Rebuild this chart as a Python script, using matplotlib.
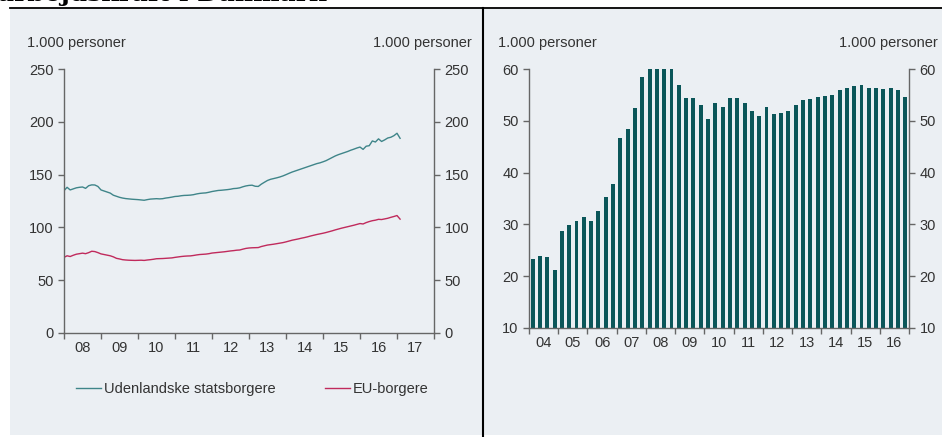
import numpy as np
import matplotlib.pyplot as plt
from matplotlib.patches import Rectangle
from matplotlib.lines import Line2D

plt.rcParams['font.family'] = ['Liberation Sans', 'DejaVu Sans']

# venstre figur: maanedlige tal, jan 2008 - feb 2017 (1.000 personer)
udenlandske = [134.8, 138.0, 135.5, 136.5, 137.5, 138.0, 138.3, 137.0, 139.5, 140.3, 140.2, 138.8,
               135.5, 134.5, 133.5, 132.5, 130.5, 129.5, 128.5, 127.8, 127.3, 127.0, 126.7, 126.5,
               126.3, 126.0, 125.7, 126.3, 126.8, 127.0, 127.2, 127.0, 127.2, 127.8, 128.2, 128.7,
               129.3, 129.5, 130.0, 130.3, 130.4, 130.6, 131.0, 131.7, 132.2, 132.5, 132.7, 133.3,
               134.0, 134.5, 135.0, 135.2, 135.5, 135.8, 136.2, 136.8, 137.0, 137.5, 138.5, 139.3,
               139.8, 140.0, 139.0, 138.8, 141.0, 142.8, 144.5, 145.6, 146.3, 147.0, 147.8, 148.8,
               150.0, 151.3, 152.5, 153.5, 154.5, 155.5, 156.5, 157.5, 158.5, 159.5, 160.5, 161.2,
               162.2, 163.3, 164.8, 166.3, 167.8, 169.0, 170.0, 171.0, 172.0, 173.2, 174.2, 175.3,
               176.2, 174.0, 177.0, 177.5, 182.0, 181.0, 184.0, 181.5, 183.0, 184.8, 185.5, 187.0,
               189.3, 184.5]
eu_borgere = [71.5, 73.0, 72.3, 73.5, 74.5, 75.0, 75.5, 75.0, 76.0, 77.3, 77.0, 76.0,
              74.8, 74.2, 73.6, 73.0, 72.0, 70.6, 70.0, 69.3, 69.0, 68.8, 68.7, 68.6,
              68.7, 68.8, 68.6, 69.0, 69.3, 69.7, 70.2, 70.3, 70.4, 70.6, 70.8, 71.0,
              71.5, 71.9, 72.3, 72.6, 72.8, 72.9, 73.3, 73.8, 74.2, 74.4, 74.6, 75.0,
              75.6, 75.9, 76.2, 76.5, 76.8, 77.2, 77.6, 77.9, 78.3, 78.5, 79.3, 80.0,
              80.4, 80.6, 80.7, 80.8, 81.8, 82.5, 83.2, 83.6, 84.0, 84.5, 85.0, 85.5,
              86.2, 87.0, 87.8, 88.4, 89.0, 89.7, 90.3, 91.0, 91.8, 92.5, 93.2, 93.8,
              94.4, 95.1, 95.9, 96.7, 97.6, 98.4, 99.2, 99.9, 100.6, 101.3, 102.0, 102.8,
              103.6, 103.2, 104.5, 105.5, 106.3, 106.8, 107.6, 107.4, 108.0, 108.6, 109.5, 110.3,
              111.2, 107.8]

# hoejre figur: kvartalstal 2004K1 - 2016K4 (1.000 personer)
kvartal = [23.2, 23.9, 23.7, 21.2, 28.7, 29.8, 30.7, 31.5, 30.7, 32.5, 35.2, 37.9,
           46.8, 48.4, 52.5, 58.6, 60.0, 60.0, 60.0, 60.0, 57.0, 54.4, 54.4, 53.1,
           50.4, 53.4, 52.8, 54.4, 54.4, 53.5, 51.9, 51.0, 52.8, 51.4, 51.5, 51.9,
           53.1, 54.1, 54.3, 54.6, 54.8, 55.1, 55.9, 56.3, 56.8, 56.9, 56.3, 56.3,
           56.2, 56.3, 55.9, 54.7]

aar_v = list(range(2008, 2019))
labels_v = ['08', '09', '10', '11', '12', '13', '14', '15', '16', '17']
aar_h = list(range(2004, 2018))
labels_h = ['04', '05', '06', '07', '08', '09', '10', '11', '12', '13', '14', '15', '16']

bg = '#ebeff3'
teal = '#3f8589'
red = '#c02a5c'
bar_c = '#0b5659'
spine_c = '#666666'
txt_c = '#333333'
fs = 10.5

W, H = 942, 437
fig = plt.figure(figsize=(W / 100, H / 100), dpi=100)

# baggrund og rammer
fig.patches.append(Rectangle((10 / W, 0.005), 1 - 10 / W, 1 - 9 / H - 0.005,
                             transform=fig.transFigure, facecolor=bg, edgecolor='none', zorder=-10))
fig.add_artist(Line2D([10 / W, 1], [1 - 8 / H, 1 - 8 / H], color='black', lw=1.3))
fig.add_artist(Line2D([483 / W, 483 / W], [0, 1 - 8 / H], color='black', lw=1.5))
fig.text(-2 / W, 1 - 1 / H, 'arbejdskraft i Danmark', fontsize=18, fontweight='bold',
         family='DejaVu Serif', va='baseline', ha='left', color='black')


def style(ax):
    ax.set_facecolor('none')
    ax.spines['top'].set_visible(False)
    for s in ['left', 'right', 'bottom']:
        ax.spines[s].set_color(spine_c)
        ax.spines[s].set_linewidth(1.0)
    ax.tick_params(axis='both', which='major', direction='out', length=4, width=1,
                   color=spine_c, labelsize=fs, labelcolor=txt_c)
    ax.tick_params(axis='y', right=True, labelright=True)
    ax.tick_params(axis='x', which='minor', length=0, labelsize=fs, labelcolor=txt_c, pad=6)
    ax.set_xticklabels([])


# venstre panel
ax1 = fig.add_axes([64 / W, 1 - 332.7 / H, 370 / W, 263.4 / H])
x = [2008 + i / 12 for i in range(len(udenlandske))]
ax1.plot(x, udenlandske, color=teal, lw=1.0, label='Udenlandske statsborgere')
ax1.plot(x, eu_borgere, color=red, lw=1.0, label='EU-borgere')
ax1.set_xlim(2008, 2018)
ax1.set_ylim(0, 250)
ax1.set_yticks(range(0, 251, 50))
ax1.set_xticks(aar_v)
style(ax1)
ax1.set_xticks([a + 0.5 for a in aar_v[:-1]], minor=True)
ax1.set_xticklabels(labels_v, minor=True)
fig.text(27 / W, 1 - 43 / H, '1.000 personer', fontsize=fs, color=txt_c, va='center', ha='left')
fig.text(472 / W, 1 - 43 / H, '1.000 personer', fontsize=fs, color=txt_c, va='center', ha='right')
fig.legend(loc='center', bbox_to_anchor=(252 / W, 1 - 389 / H), ncol=2, frameon=False,
           fontsize=fs, handlelength=1.7, handletextpad=0.2, columnspacing=3.4,
           labelcolor=txt_c)

# hoejre panel
ax2 = fig.add_axes([529 / W, 1 - 327.7 / H, 380 / W, 258.4 / H])
xq = [2004 + (q + 0.5) / 4 for q in range(len(kvartal))]
ax2.bar(xq, kvartal, width=0.135, color=bar_c, bottom=0)
ax2.set_xlim(2004, 2017)
ax2.set_ylim(10, 60)
ax2.set_yticks(range(10, 61, 10))
ax2.set_xticks(aar_h)
style(ax2)
ax2.set_xticks([a + 0.5 for a in aar_h[:-1]], minor=True)
ax2.set_xticklabels(labels_h, minor=True)
fig.text(498 / W, 1 - 43 / H, '1.000 personer', fontsize=fs, color=txt_c, va='center', ha='left')
fig.text(938 / W, 1 - 43 / H, '1.000 personer', fontsize=fs, color=txt_c, va='center', ha='right')

fig.savefig('out.png', dpi=100)
